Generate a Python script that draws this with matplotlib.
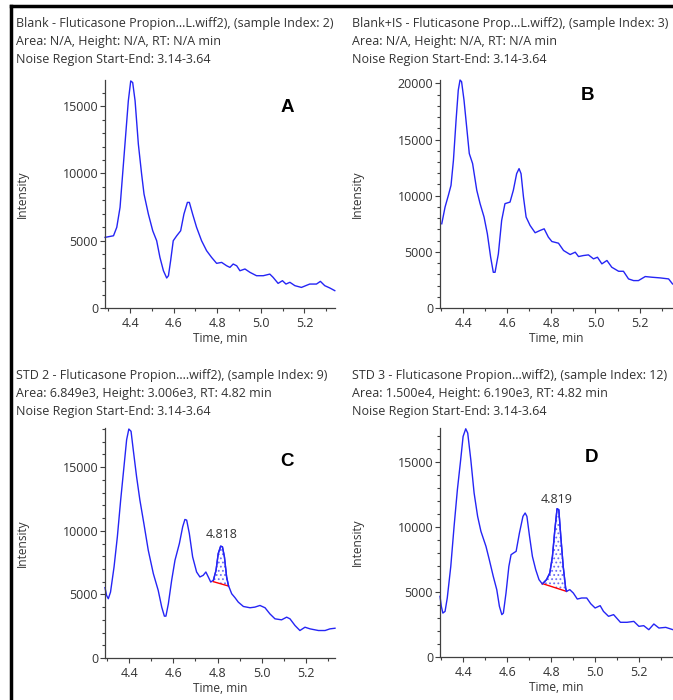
import matplotlib
matplotlib.use("Agg")
import matplotlib.pyplot as plt
from matplotlib.lines import Line2D
from matplotlib.ticker import MultipleLocator, FormatStrFormatter

plt.rcParams['font.family'] = ['Open Sans', 'DejaVu Sans']
plt.rcParams['hatch.linewidth'] = 0.8

W, H = 673, 700

# ---- data ----
time_a = [4.285, 4.324, 4.339, 4.354, 4.373, 4.392, 4.403, 4.412, 4.423, 4.438, 4.453, 4.464,
          4.484, 4.504, 4.522, 4.537, 4.553, 4.568, 4.576, 4.586, 4.598, 4.614, 4.632, 4.647,
          4.663, 4.672, 4.687, 4.705, 4.728, 4.751, 4.774, 4.797, 4.820, 4.843, 4.858, 4.873,
          4.889, 4.904, 4.927, 4.950, 4.980, 5.011, 5.041, 5.056, 5.079, 5.099, 5.115, 5.133,
          5.156, 5.186, 5.224, 5.255, 5.273, 5.293, 5.316, 5.339]
int_a = [5250, 5370, 6000, 7480, 11440, 15400, 16880, 16760, 15400, 12180, 9950, 8470,
         6980, 5740, 5000, 3760, 2770, 2230, 2400, 3510, 5000, 5370, 5740, 6980,
         7850, 7850, 6980, 6000, 5000, 4260, 3760, 3320, 3390, 3140, 3020, 3270,
         3140, 2770, 2900, 2650, 2400, 2400, 2520, 2280, 1830, 2030, 1780, 1910,
         1660, 1530, 1780, 1780, 1980, 1660, 1490, 1290]

time_b = [4.302, 4.317, 4.332, 4.344, 4.355, 4.367, 4.377, 4.385, 4.392, 4.403, 4.415, 4.427,
          4.442, 4.461, 4.476, 4.494, 4.509, 4.524, 4.536, 4.544, 4.559, 4.574, 4.589, 4.612,
          4.627, 4.642, 4.653, 4.662, 4.673, 4.685, 4.703, 4.726, 4.748, 4.767, 4.786, 4.802,
          4.832, 4.855, 4.885, 4.908, 4.923, 4.945, 4.968, 4.991, 5.009, 5.029, 5.052, 5.074,
          5.105, 5.127, 5.150, 5.173, 5.195, 5.226, 5.256, 5.294, 5.332, 5.350]
int_b = [7500, 8990, 10030, 10920, 13150, 16730, 19400, 20300, 20150, 18510, 16130, 13750,
         12860, 10480, 9290, 8100, 6610, 4520, 3180, 3180, 4820, 7800, 9290, 9430,
         10480, 11960, 12410, 11960, 9880, 8100, 7350, 6700, 6900, 7050, 6310, 5920,
         5770, 5120, 4760, 4970, 4580, 4670, 4730, 4375, 4520, 3930, 4230, 3630,
         3270, 3270, 2590, 2440, 2440, 2800, 2740, 2680, 2590, 2140]

time_c = [4.290, 4.297, 4.305, 4.315, 4.331, 4.346, 4.361, 4.376, 4.388, 4.398, 4.408, 4.418,
          4.433, 4.448, 4.466, 4.486, 4.509, 4.531, 4.547, 4.559, 4.566, 4.577, 4.592, 4.607,
          4.627, 4.642, 4.652, 4.660, 4.672, 4.687, 4.705, 4.720, 4.735, 4.747, 4.758, 4.769,
          4.781, 4.793, 4.803, 4.814, 4.822, 4.831, 4.841, 4.849, 4.864, 4.879, 4.894, 4.917,
          4.947, 4.969, 4.992, 5.015, 5.037, 5.060, 5.090, 5.113, 5.128, 5.151, 5.173, 5.196,
          5.219, 5.257, 5.287, 5.309, 5.332]
int_c = [5530, 4920, 4660, 5180, 7160, 9530, 12420, 15050, 17160, 18000, 17820, 16370,
         14260, 12420, 10580, 8470, 6630, 5320, 4000, 3290, 3290, 4260, 6110, 7680,
         9000, 10320, 10890, 10840, 9790, 7950, 6760, 6370, 6500, 6760, 6370, 5970,
         6110, 6890, 8210, 8790, 8740, 7950, 6370, 5710, 5050, 4740, 4390, 4050,
         3950, 4000, 4130, 3950, 3470, 3080, 3000, 3210, 3080, 2550, 2160, 2420,
         2290, 2160, 2160, 2290, 2340]

time_d = [4.295, 4.301, 4.308, 4.318, 4.328, 4.344, 4.359, 4.374, 4.389, 4.400, 4.412, 4.421,
          4.435, 4.450, 4.466, 4.481, 4.504, 4.519, 4.537, 4.553, 4.565, 4.576, 4.583, 4.595,
          4.608, 4.618, 4.629, 4.641, 4.656, 4.672, 4.682, 4.690, 4.702, 4.715, 4.730, 4.745,
          4.760, 4.779, 4.794, 4.806, 4.817, 4.827, 4.835, 4.844, 4.855, 4.866, 4.870, 4.885,
          4.901, 4.919, 4.939, 4.962, 4.980, 5.000, 5.023, 5.038, 5.061, 5.084, 5.115, 5.145,
          5.176, 5.199, 5.221, 5.244, 5.267, 5.290, 5.321, 5.354]
int_d = [4670, 3900, 3380, 3510, 4540, 6970, 10050, 12870, 15180, 16970, 17560, 17230,
         15180, 12620, 10820, 9670, 8510, 7490, 6210, 5180, 3900, 3260, 3380, 4920,
         6970, 7870, 8000, 8130, 9540, 10820, 11080, 10820, 9280, 7740, 6720, 5950,
         5620, 5950, 6460, 7740, 9790, 11410, 11330, 9280, 6970, 5310, 5050, 5180,
         4920, 4460, 4540, 4540, 4100, 3770, 3950, 3510, 3130, 3260, 2670, 2670,
         2740, 2360, 2410, 2100, 2540, 2230, 2280, 2100]

headers = [
    ["Blank - Fluticasone Propion...L.wiff2), (sample Index: 2)",
     "Area: N/A, Height: N/A, RT: N/A min",
     "Noise Region Start-End: 3.14-3.64"],
    ["Blank+IS - Fluticasone Prop...L.wiff2), (sample Index: 3)",
     "Area: N/A, Height: N/A, RT: N/A min",
     "Noise Region Start-End: 3.14-3.64"],
    ["STD 2 - Fluticasone Propion....wiff2), (sample Index: 9)",
     "Area: 6.849e3, Height: 3.006e3, RT: 4.82 min",
     "Noise Region Start-End: 3.14-3.64"],
    ["STD 3 - Fluticasone Propion...wiff2), (sample Index: 12)",
     "Area: 1.500e4, Height: 6.190e3, RT: 4.82 min",
     "Noise Region Start-End: 3.14-3.64"],
]
panel_letters = ["A", "B", "C", "D"]

# integrated peaks: window, baseline ends, RT label
peak_c = dict(t0=4.781, t1=4.849, b0=6000, b1=5660, rt="4.818", rt_t=4.818, rt_i=9700)
peak_d = dict(t0=4.760, t1=4.870, b0=5650, b1=5050, rt="4.819", rt_t=4.824, rt_i=12150)

# ---- layout in pixels ----
panels = [
    dict(t=time_a, y=int_a, box=(105, 80, 335, 308), xlim=(4.285, 5.34), ylim=(0, 16950),
         hx=16, hy=23, lx=287, ly=108, peak=None),
    dict(t=time_b, y=int_b, box=(440, 80, 673, 308), xlim=(4.294, 5.352), ylim=(0, 20300),
         hx=352, hy=23, lx=588, ly=96, peak=None),
    dict(t=time_c, y=int_c, box=(105, 428, 335, 658), xlim=(4.29, 5.332), ylim=(0, 18080),
         hx=16, hy=375, lx=287, ly=462, peak=peak_c),
    dict(t=time_d, y=int_d, box=(440, 428, 673, 657), xlim=(4.295, 5.354), ylim=(0, 17620),
         hx=352, hy=375, lx=592, ly=457, peak=peak_d),
]

BLUE = '#2525f5'
TXT = '#333333'

fig = plt.figure(figsize=(W / 100, H / 100), dpi=100)

for i, p in enumerate(panels):
    x0, y0, x1, y1 = p['box']
    ax = fig.add_axes([x0 / W, 1 - y1 / H, (x1 - x0) / W, (y1 - y0) / H])
    ax.plot(p['t'], p['y'], color=BLUE, lw=1.0, clip_on=False)
    ax.set_xlim(*p['xlim'])
    ax.set_ylim(*p['ylim'])
    for s in ['top', 'right']:
        ax.spines[s].set_visible(False)
    for s in ['left', 'bottom']:
        ax.spines[s].set_color('#404040')
        ax.spines[s].set_linewidth(0.9)
    ax.xaxis.set_major_locator(MultipleLocator(0.2))
    ax.xaxis.set_minor_locator(MultipleLocator(0.1))
    ax.yaxis.set_major_locator(MultipleLocator(5000))
    ax.yaxis.set_minor_locator(MultipleLocator(1000))
    ax.xaxis.set_major_formatter(FormatStrFormatter('%.1f'))
    ax.tick_params(which='both', direction='out', color='#404040', width=0.8,
                   labelsize=9, labelcolor=TXT)
    ax.tick_params(which='major', length=3.5)
    ax.tick_params(which='minor', length=2.5)
    ax.tick_params(axis='y', pad=1.5)
    ax.tick_params(axis='x', pad=3)
    ax.set_xlabel("Time, min", fontsize=8.6, color=TXT, labelpad=1.5)
    ax.set_ylabel("Intensity", fontsize=8.6, color=TXT)
    ax.yaxis.set_label_coords(-76 / (x1 - x0), 0.5)

    pk = p['peak']
    if pk is not None:
        seg_t = [t for t in p['t'] if pk['t0'] <= t <= pk['t1']]
        seg_y = [v for t, v in zip(p['t'], p['y']) if pk['t0'] <= t <= pk['t1']]
        base = [pk['b0'] + (pk['b1'] - pk['b0']) * (t - pk['t0']) / (pk['t1'] - pk['t0'])
                for t in seg_t]
        ax.fill_between(seg_t, base, seg_y, facecolor='white', edgecolor='#6f6ff5',
                        hatch='....', linewidth=0)
        ax.plot([seg_t[0], seg_t[-1]], [base[0], base[-1]], color='red', lw=1.0)
        ax.plot(seg_t, seg_y, color=BLUE, lw=1.0)
        ax.plot([seg_t[-1], seg_t[-1]], [base[-1], seg_y[-1]], color=BLUE, lw=0.8)
        ax.text(pk['rt_t'], pk['rt_i'], pk['rt'], fontsize=9, color=TXT,
                ha='center', va='center')

    for k, line in enumerate(headers[i]):
        fig.text(p['hx'] / W, 1 - (p['hy'] + k * 18.5) / H, line, fontsize=9,
                 color=TXT, ha='left', va='center')
    fig.text(p['lx'] / W, 1 - p['ly'] / H, panel_letters[i], fontsize=13.5,
             fontweight='bold', color='black', ha='center', va='center',
             family=['Liberation Sans', 'DejaVu Sans'])

# outer frame (top and left edges)
fig.add_artist(Line2D([10.5 / W, 1], [1 - 6 / H, 1 - 6 / H], color='black', lw=2.5,
                      transform=fig.transFigure))
fig.add_artist(Line2D([10.5 / W, 10.5 / W], [0, 1 - 6 / H], color='black', lw=2.5,
                      transform=fig.transFigure))

fig.savefig("out.png", dpi=100)
